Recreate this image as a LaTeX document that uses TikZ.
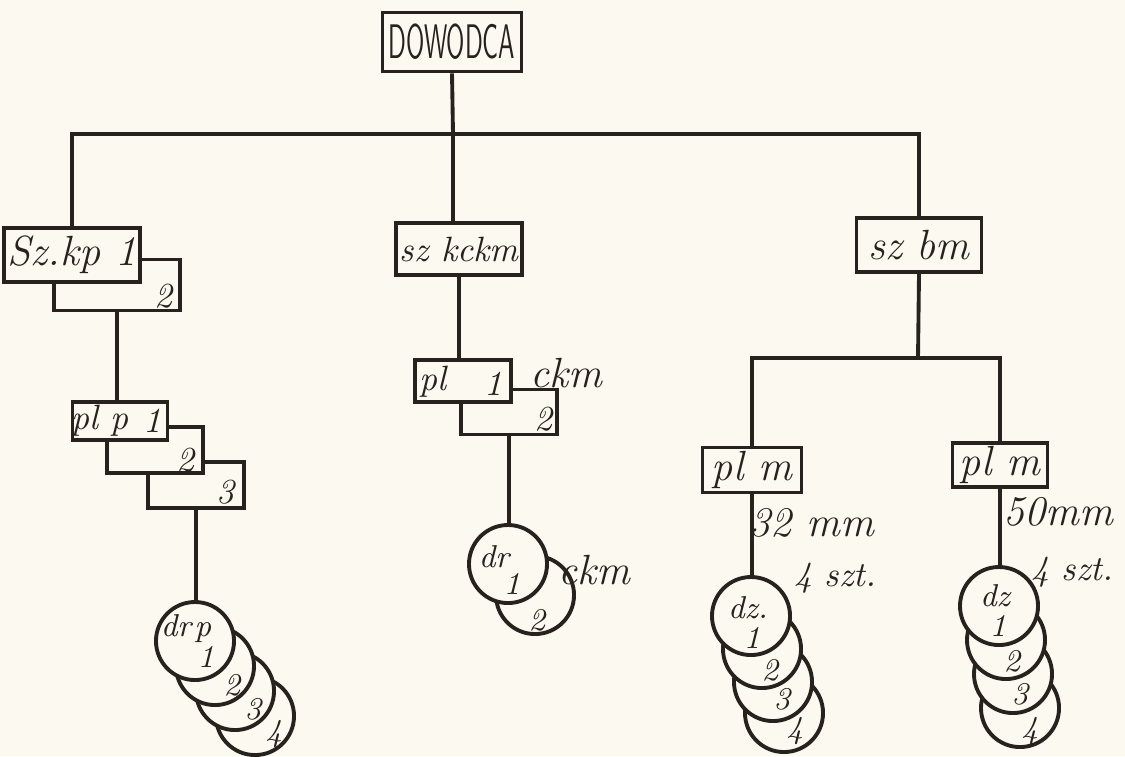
\documentclass[tikz,border=0pt]{standalone}
\usepackage{graphicx}
\usetikzlibrary{positioning}
\definecolor{paper}{RGB}{251,249,240}
\definecolor{ink}{RGB}{40,34,30}

\begin{document}
\begin{tikzpicture}[
      x=0.01cm, y=-0.01cm,
      unit/.style={draw=ink,fill=paper,line width=1.1pt,inner sep=1pt,font=\large\itshape,text=ink},
      crew/.style={draw=ink,fill=paper,line width=1.1pt,circle,minimum size=0.78cm,inner sep=0pt},
      wire/.style={draw=ink,line width=1.1pt},
      tag/.style={font=\itshape,text=ink,inner sep=0pt},
      mini/.style={font=\small\itshape,text=ink,inner sep=0pt},
      note/.style={font=\large\itshape,text=ink,inner sep=0pt},
    ]
    \fill[paper] (0,0) rectangle (1125,756);
    \useasboundingbox (0,0) rectangle (1125,756);

    \node[unit,font=\sffamily\large,minimum width=1.39cm,minimum height=0.59cm] (dowodca) at (452,42) {\scalebox{0.6}[1.15]{DOWODCA}};
    \coordinate (bus) at (453,134);

    % left branch
    \node[unit,minimum width=1.26cm,minimum height=0.51cm] (kp2) at (117,285) {};
    \node[unit,minimum width=1.29cm,minimum height=0.54cm] (kp1) at (72,255) {Sz.kp 1};
    \node[tag] at (163,296) {2};

    \node[unit,minimum width=0.96cm,minimum height=0.46cm] (plp3) at (196,485) {};
    \node[unit,minimum width=0.96cm,minimum height=0.46cm] (plp2) at (155,450) {};
    \node[unit,minimum width=0.95cm,minimum height=0.38cm] (plp1) at (120,421) {};
    \node[tag] at (100,421) {pl p};
    \node[tag] at (152,421) {1};
    \node[tag] at (185,460) {2};
    \node[tag] at (225,492) {3};

    \foreach \i/\x/\y in {4/255/716,3/235/691,2/215/666,1/195/641}
      \node[crew] (drp\i) at (\x,\y) {};
    \node[mini,anchor=base] at (176,636) {dr};
    \node[mini,anchor=base] at (203,636) {p};
    \node[mini] at (206,657) {1};
    \node[mini] at (232,685) {2};
    \node[mini] at (253,709) {3};
    \node[mini] at (274,734) {4};

    % middle branch
    \node[unit,font=\itshape,minimum width=1.26cm,minimum height=0.52cm] (szkckm) at (459,249) {sz kckm};
    \node[unit,minimum width=0.96cm,minimum height=0.45cm] (pl2) at (509,412) {};
    \node[unit,minimum width=0.96cm,minimum height=0.42cm] (pl1) at (463,381) {};
    \node[tag] at (433,382) {pl};
    \node[tag] at (493,384) {1};
    \node[tag] at (543,419) {2};
    \node[note] at (566,373) {ckm};

    \node[crew] (dr2) at (535,595) {};
    \node[crew] (dr1) at (508,564) {};
    \node[mini] at (494,557) {dr};
    \node[mini] at (512,584) {1};
    \node[mini] at (537,620) {2};
    \node[note] at (594,570) {ckm};

    % right branch
    \node[unit,minimum width=1.25cm,minimum height=0.54cm] (szbm) at (919,245) {sz bm};
    \coordinate (split) at (918,358);
    \node[unit,minimum width=0.99cm,minimum height=0.45cm] (plm1) at (752,470) {pl m};
    \node[unit,minimum width=0.95cm,minimum height=0.38cm] (plm2) at (1000,465) {pl m};
    \node[note] at (812,523) {32 mm};
    \node[note,font=\itshape] at (835,578) {4 szt.};
    \node[note] at (1058,512) {50mm};
    \node[note,font=\itshape] at (1072,572) {4 szt.};

    \foreach \i/\x/\y in {4/784/713,3/773/682,2/762/649,1/751/616}
      \node[crew] (dza\i) at (\x,\y) {};
    \node[mini] at (748,608) {dz.};
    \node[mini] at (752,638) {1};
    \node[mini] at (770,670) {2};
    \node[mini] at (782,699) {3};
    \node[mini] at (795,731) {4};

    \foreach \i/\x/\y in {4/1020/708,3/1013/674,2/1006/640,1/999/606}
      \node[crew] (dzb\i) at (\x,\y) {};
    \node[mini] at (995,596) {dz};
    \node[mini] at (998,626) {1};
    \node[mini] at (1012,661) {2};
    \node[mini] at (1020,694) {3};
    \node[mini] at (1030,731) {4};

    % connectors
    \draw[wire] (dowodca.south) -- (bus);
    \draw[wire] (kp1.north) |- (bus) -| (szbm.north);
    \draw[wire] (bus) -- (bus |- szkckm.north);
    \draw[wire] (kp2.south) -- (kp2.south |- plp1.north);
    \draw[wire] (plp3.south) -- (plp3.south |- drp1.north);
    \draw[wire] (szkckm.south) -- (szkckm.south |- pl1.north);
    \draw[wire] (pl2.south) -- (pl2.south |- dr1.north);
    \draw[wire] (szbm.south) -- (split);
    \draw[wire] (plm1.north) |- (split) -| (plm2.north);
    \draw[wire] (plm1.south) -- (plm1.south |- dza1.north);
    \draw[wire] (plm2.south) -- (plm2.south |- dzb1.north);
  \end{tikzpicture}
\end{document}
